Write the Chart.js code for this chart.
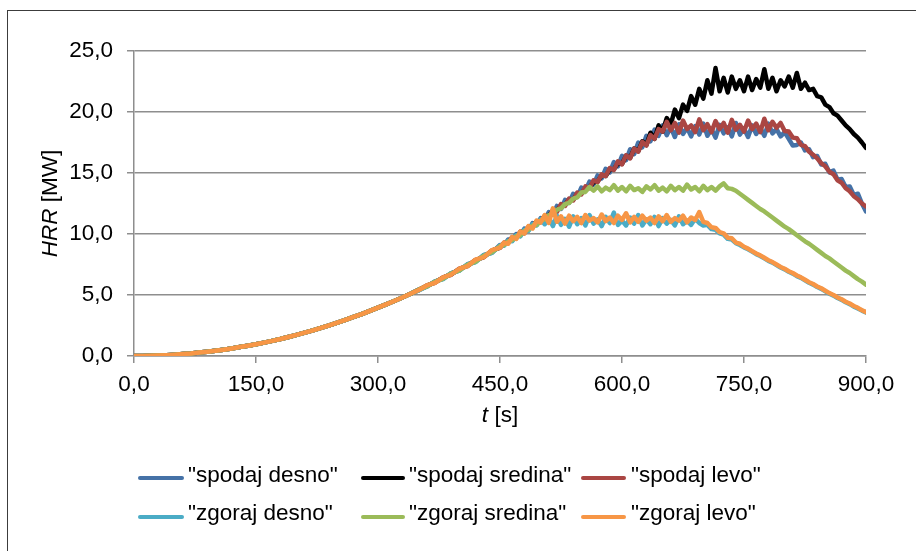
<!DOCTYPE html>
<html>
<head>
<meta charset="utf-8">
<script src="https://cdn.jsdelivr.net/npm/chart.js@4.4.1/dist/chart.umd.min.js"></script>
<style>
  html, body { margin:0; padding:0; background:#fff; overflow:hidden; }
  #wrap { position:relative; width:916px; height:551px; overflow:hidden; }
  #c { position:absolute; left:0; top:0; }
  .frame { position:absolute; left:7px; top:10px; width:1000px; height:1000px;
           border-left:1px solid #3c3c3c; border-top:1px solid #3c3c3c; pointer-events:none; }
  .lg-item { position:absolute; height:26px; white-space:nowrap;
             font-family:"Liberation Sans", Arial, sans-serif; font-size:22.5px; line-height:26px; color:#000; }
  .lg-line { position:absolute; height:4px; border-radius:2px; }
</style>
</head>
<body>
<div id="wrap">
  <canvas id="c" width="916" height="551"></canvas>
  <div class="frame"></div>
  <div id="legend"></div>
</div>
<script>
// ---- data ----
const timeS = [0,10,20,30,40,50,60,70,80,90,
  100,110,120,130,140,150,160,170,180,190,
  200,210,220,230,240,250,260,270,280,290,
  300,310,320,330,340,350,360,370,380,390,
  400,410,420,430,440,
  450,455,460,465,470,475,480,485,490,495,
  500,505,510,515,520,525,530,535,540,545,
  550,555,560,565,570,575,580,585,590,595,
  600,605,610,615,620,625,630,635,640,645,
  650,655,660,665,670,675,680,685,690,695,
  700,705,710,715,720,725,730,735,740,745,
  750,755,760,765,770,775,780,785,790,795,
  800,805,810,815,820,825,830,835,840,845,
  850,855,860,865,870,875,880,885,890,895,
  900];

// common growth phase, t = 0 ... 340 s
const riseCommon = [0.00,0.00,0.02,0.04,0.07,0.11,0.16,0.21,0.28,0.35,0.43,0.52,0.62,0.73,0.84,
  0.96,1.10,1.24,1.39,1.56,1.73,1.91,2.10,2.30,2.51,2.73,2.96,3.20,3.44,3.70,3.96,4.23,4.51,4.80,5.10];

// t = 350 ... 440 s (10 s steps), then 450 ... 900 s (5 s steps)
const spodajDesno = [5.45,5.68,6.12,6.32,6.80,7.00,7.52,7.72,8.28,8.45,
  9.10,9.05,9.55,9.45,10.00,9.85,10.45,10.30,10.90,10.75,
  11.30,11.15,11.80,11.60,12.30,12.05,12.80,12.55,13.30,13.05,
  13.80,13.55,14.30,14.05,14.80,14.55,15.35,15.05,15.90,15.55,
  16.40,16.05,16.95,16.55,17.50,17.10,18.05,17.60,18.55,18.05,
  18.90,18.10,18.75,17.95,19.00,18.20,18.70,18.00,18.85,18.15,
  19.05,18.05,18.60,17.90,18.95,18.25,18.75,18.00,19.10,18.15,
  18.65,17.95,18.90,18.20,18.70,18.05,19.05,18.25,18.60,18.00,
  18.35,17.80,17.25,17.30,17.50,16.85,16.95,16.30,16.40,15.70,
  15.75,15.05,15.20,14.45,14.50,13.85,13.90,13.20,13.30,12.50,
  11.85];
const spodajSredina = [5.42,5.76,6.04,6.42,6.70,7.12,7.40,7.85,8.12,8.62,
  8.90,9.20,9.35,9.70,9.75,10.15,10.20,10.55,10.70,11.00,
  11.05,11.45,11.50,11.90,11.95,12.35,12.35,12.85,12.80,13.30,
  13.30,13.75,13.80,14.25,14.30,14.80,14.75,15.30,15.30,15.80,
  15.75,16.40,16.25,17.00,16.80,17.60,17.30,18.30,17.80,18.90,
  18.40,19.50,19.00,20.20,19.50,20.60,20.10,21.30,20.60,21.90,
  21.10,22.60,21.50,23.60,21.70,22.80,21.60,22.90,21.90,22.60,
  21.70,22.90,21.80,22.70,22.00,23.50,21.90,22.80,21.70,22.60,
  22.10,22.90,22.00,23.20,21.90,22.40,21.80,21.90,21.30,21.20,
  20.60,20.40,19.90,19.70,19.30,18.90,18.60,18.20,17.90,17.50,
  17.05];
const spodajLevo = [5.38,5.78,6.00,6.45,6.66,7.16,7.36,7.88,8.08,8.66,
  8.86,9.30,9.25,9.75,9.65,10.20,10.05,10.60,10.50,11.05,
  10.95,11.50,11.35,11.95,11.80,12.45,12.30,12.90,12.75,13.40,
  13.25,13.90,13.75,14.40,14.25,14.90,14.75,15.40,15.25,15.95,
  15.70,16.45,16.20,17.00,16.75,17.55,17.25,18.10,17.80,18.60,
  18.40,19.20,18.50,19.10,18.30,19.30,18.60,18.90,18.35,19.40,
  18.50,19.00,18.35,19.25,18.60,19.10,18.30,19.35,18.55,18.95,
  18.40,19.30,18.60,19.05,18.35,19.45,18.50,19.20,18.70,19.10,
  18.45,18.40,17.90,17.85,17.30,17.20,16.75,16.50,16.20,15.80,
  15.55,15.10,14.90,14.40,14.20,13.75,13.50,13.10,12.85,12.50,
  12.25];
const zgorajDesno = [5.38,5.70,6.10,6.30,6.80,7.00,7.50,7.70,8.25,8.45,
  9.05,9.05,9.45,9.40,9.90,9.80,10.35,10.25,10.80,10.70,
  11.20,10.80,11.35,10.65,11.50,10.75,11.25,10.60,11.45,10.80,
  11.30,10.70,11.55,10.85,11.20,10.65,11.40,10.90,11.75,10.75,
  11.10,10.70,11.35,10.85,11.55,10.70,11.20,10.80,11.40,10.65,
  11.30,10.85,11.15,10.70,11.45,10.80,11.10,10.75,11.25,10.90,
  10.70,10.75,10.40,10.35,10.05,9.95,9.60,9.55,9.25,9.10,
  8.90,8.75,8.55,8.35,8.20,8.00,7.80,7.65,7.45,7.25,
  7.10,6.90,6.75,6.55,6.40,6.20,6.00,5.85,5.65,5.50,
  5.30,5.10,4.95,4.75,4.60,4.40,4.25,4.05,3.90,3.72,
  3.56];
const zgorajSredina = [5.44,5.70,6.08,6.34,6.76,7.02,7.48,7.74,8.22,8.50,
  9.00,9.10,9.40,9.50,9.82,9.90,10.25,10.35,10.68,10.75,
  11.10,11.20,11.55,11.65,12.00,12.10,12.45,12.55,12.90,13.00,
  13.40,13.45,13.85,13.55,13.90,13.50,13.80,13.60,14.00,13.55,
  13.85,13.50,13.95,13.60,13.75,13.45,13.90,13.65,14.00,13.55,
  13.80,13.50,13.95,13.60,13.85,13.55,14.05,13.65,13.85,13.50,
  13.95,13.60,13.85,13.55,13.90,14.15,13.75,13.70,13.55,13.30,
  13.05,12.80,12.55,12.30,12.05,11.85,11.60,11.35,11.10,10.85,
  10.60,10.40,10.15,9.90,9.65,9.40,9.20,8.95,8.70,8.45,
  8.20,8.00,7.75,7.50,7.25,7.00,6.80,6.55,6.30,6.10,
  5.85];
const zgorajLevo = [5.41,5.78,6.00,6.45,6.68,7.15,7.36,7.90,8.10,8.68,
  8.88,9.30,9.20,9.75,9.60,10.20,10.05,10.65,10.45,11.10,
  10.95,11.55,10.90,12.10,11.00,11.45,10.85,11.50,11.05,11.40,
  10.90,11.55,11.10,11.30,10.95,11.60,11.05,11.35,10.90,11.50,
  11.15,11.70,10.95,11.40,11.00,11.50,11.10,11.35,10.90,11.45,
  11.05,11.55,11.00,11.30,11.10,11.50,10.95,11.35,11.15,11.80,
  11.00,10.90,10.55,10.50,10.15,10.05,9.70,9.65,9.30,9.20,
  8.95,8.80,8.60,8.40,8.25,8.05,7.85,7.70,7.50,7.30,
  7.15,6.95,6.80,6.60,6.45,6.25,6.05,5.90,5.70,5.55,
  5.35,5.15,5.00,4.80,4.65,4.45,4.30,4.10,3.95,3.75,
  3.60];

const seriesNames = ['"spodaj desno"','"spodaj sredina"','"spodaj levo"','"zgoraj desno"','"zgoraj sredina"','"zgoraj levo"'];
const seriesValues = [spodajDesno, spodajSredina, spodajLevo, zgorajDesno, zgorajSredina, zgorajLevo];
const seriesColors = ['#4572A7','#000000','#AA4643','#4BACC6','#9BBB59','#F79646'];

const xTicks = [0,150,300,450,600,750,900];
const yTicks = [0,5,10,15,20,25];
const xTitleParts = [{text:'t', italic:true},{text:' [s]', italic:false}];
const yTitleParts = [{text:'HRR', italic:true},{text:' [MW]', italic:false}];

// ---- chart ----
const FONT = '"Liberation Sans", Arial, sans-serif';
const FS = 22.5;
const GRID = '#8e8e8e';
const fmt = v => v.toFixed(1).replace('.', ',');

const datasets = seriesValues.map((vals, k) => {
  const full = riseCommon.concat(vals);
  return {
    label: seriesNames[k],
    data: timeS.map((t, i) => ({x: t, y: full[i]})),
    borderColor: seriesColors[k],
    backgroundColor: seriesColors[k],
    borderWidth: 4.5,
    pointRadius: 0,
    tension: 0,
    fill: false,
    borderJoinStyle: 'round',
    borderCapStyle: 'round',
    order: seriesValues.length - k
  };
});

function drawMixed(ctx, parts, cx, y) {
  const fontOf = p => (p.italic ? 'italic ' : '') + FS + 'px ' + FONT;
  let total = 0;
  parts.forEach(p => { ctx.font = fontOf(p); total += ctx.measureText(p.text).width; });
  let x = cx - total / 2;
  ctx.textAlign = 'left';
  parts.forEach(p => { ctx.font = fontOf(p); ctx.fillText(p.text, x, y); x += ctx.measureText(p.text).width; });
}

const axisTitles = {
  id: 'axisTitles',
  afterDraw(chart) {
    const {ctx, chartArea: a} = chart;
    ctx.save();
    ctx.fillStyle = '#000';
    ctx.textBaseline = 'alphabetic';
    drawMixed(ctx, xTitleParts, (a.left + a.right) / 2, a.bottom + 65.5);
    ctx.translate(57, (a.top + a.bottom) / 2);
    ctx.rotate(-Math.PI / 2);
    drawMixed(ctx, yTitleParts, 0, 0);
    ctx.restore();
  }
};

new Chart(document.getElementById('c'), {
  type: 'line',
  data: { datasets },
  plugins: [axisTitles],
  options: {
    responsive: false,
    animation: false,
    events: [],
    layout: { padding: { left: 0, right: 50, top: 51, bottom: 115 } },
    plugins: { legend: { display: false }, tooltip: { enabled: false } },
    scales: {
      x: {
        type: 'linear', min: 0, max: 900,
        afterBuildTicks: s => { s.ticks = xTicks.map(v => ({value: v})); },
        afterFit: s => { s.height = 80; },
        ticks: { callback: v => fmt(v), color: '#000', font: {family: FONT, size: FS}, padding: 8, maxRotation: 0, autoSkip: false },
        grid: { drawOnChartArea: false, drawTicks: true, tickLength: 7, color: GRID, lineWidth: 1.5 },
        border: { display: true, color: GRID, width: 1.5 }
      },
      y: {
        min: 0, max: 25,
        afterBuildTicks: s => { s.ticks = yTicks.map(v => ({value: v})); },
        afterFit: s => { s.width = 134; },
        ticks: { callback: v => fmt(v), color: '#000', font: {family: FONT, size: FS}, padding: 14 },
        grid: { drawOnChartArea: true, drawTicks: true, tickLength: 7, color: GRID, lineWidth: 1.5 },
        border: { display: true, color: GRID, width: 1.5 }
      }
    }
  }
});

// ---- legend (HTML) ----
const lgCols = [{line: 138, w: 46, text: 188}, {line: 361, w: 44, text: 409}, {line: 581, w: 45, text: 631}];
const lgRows = [{lineY: 478, top: 462}, {lineY: 516.5, top: 500}];
const lg = document.getElementById('legend');
seriesNames.forEach((name, k) => {
  const col = lgCols[k % 3], row = lgRows[Math.floor(k / 3)];
  const ln = document.createElement('div');
  ln.className = 'lg-line';
  ln.style.left = col.line + 'px';
  ln.style.width = col.w + 'px';
  ln.style.top = (row.lineY - 2) + 'px';
  ln.style.background = seriesColors[k];
  lg.appendChild(ln);
  const tx = document.createElement('div');
  tx.className = 'lg-item';
  tx.style.left = col.text + 'px';
  tx.style.top = row.top + 'px';
  tx.textContent = name;
  lg.appendChild(tx);
});
</script>
</body>
</html>
